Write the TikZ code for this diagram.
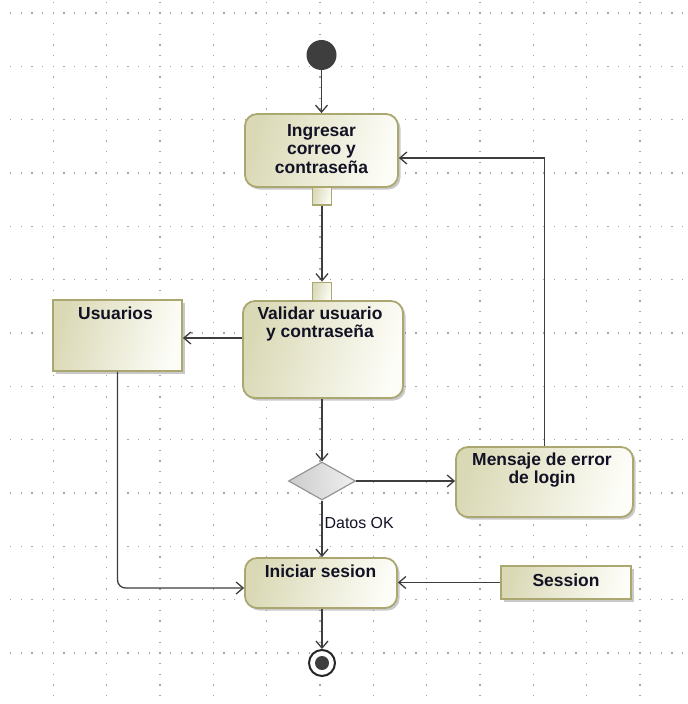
\documentclass[tikz,border=0pt]{standalone}
\usepackage{fontspec}
\setmainfont{Liberation Sans}
\usetikzlibrary{arrows.meta,shapes.geometric,shadows,calc}

\definecolor{actborder}{RGB}{170,168,112}
\definecolor{actdark}{RGB}{218,217,182}
\definecolor{actlight}{RGB}{253,253,248}
\definecolor{flowcol}{RGB}{62,62,62}
\definecolor{dotcol}{RGB}{165,165,165}
\definecolor{txtcol}{RGB}{18,18,36}
\definecolor{decborder}{RGB}{150,150,150}

\begin{document}
\begin{tikzpicture}[x=1bp,y=-1bp,
  griddots/.style={dotcol, line width=1.2bp, dash pattern=on 1.1bp off 9.567bp},
  shadebox/.style={draw=actborder, line width=1.8bp, left color=actdark, right color=actlight, shading angle=75},
  soft shadow/.style={drop shadow={shadow xshift=2.5bp, shadow yshift=-2.5bp, opacity=0.35, fill=black!60}},
  action/.style={shadebox, rounded corners=12bp, soft shadow, inner sep=0pt},
  objectbox/.style={shadebox, rectangle, soft shadow, inner sep=0pt},
  pinbox/.style={shadebox, rectangle, inner sep=0pt, minimum width=19bp, minimum height=18bp},
  decision/.style={diamond, draw=decborder, line width=1.2bp, left color=black!20, right color=black!6, inner sep=0pt},
  initial/.style={circle, fill=flowcol, minimum size=30bp, inner sep=0pt},
  final/.style={circle, draw=black!85, line width=2bp, fill=white, minimum size=26bp, inner sep=0pt,
    path picture={\fill[flowcol] (path picture bounding box.center) circle (7bp);}},
  boldtext/.style={font=\fontsize{17.5}{18.5}\selectfont\bfseries, text=txtcol, align=center, inner sep=0pt},
  guard/.style={font=\fontsize{16}{18}\selectfont, text=txtcol, inner sep=0pt},
  flow/.style={draw=flowcol, line width=1.3bp, -{Straight Barb[length=7bp, width=12bp, line width=1.3bp]}}
]
% page
\useasboundingbox[fill=white] (0,0) rectangle (688,704);

% dotted drawing grid
\foreach \k in {0,...,13} {
  \pgfmathsetmacro\yy{13+53.333*\k}
  \draw[griddots] (10.117,\yy) -- (688,\yy);
}
\foreach \k in {1,...,12} {
  \pgfmathsetmacro\xx{53.333*\k}
  \draw[griddots] (\xx,1.78) -- (\xx,704);
}

% activity nodes
\node[initial] (start) at (321.5,55) {};
\node[action, minimum width=153bp, minimum height=73bp] (ing) at (321.5,150.5) {};
\node[boldtext] (ing-t) at (321.5,149) {Ingresar\\correo y\\contraseña};
\node[pinbox] (p1) at (322,196) {};
\node[pinbox] (p2) at (322,291.5) {};
\node[action, minimum width=160bp, minimum height=97bp] (val) at (323,349.5) {};
\node[boldtext] (val-t) at (320,324) {Validar usuario\\y contraseña};
\node[objectbox, minimum width=129bp, minimum height=71bp] (usu) at (117.5,335.5) {};
\node[boldtext] (usu-t) at (115.5,313) {Usuarios};
\node[decision, minimum width=67bp, minimum height=38bp] (dec) at (322,481) {};
\node[action, minimum width=177bp, minimum height=70bp] (msg) at (544.5,482) {};
\node[boldtext] (msg-t) at (542,470) {Mensaje de error\\de login};
\node[action, minimum width=152bp, minimum height=50bp] (ini) at (321,583) {};
\node[boldtext] (ini-t) at (320.5,571) {Iniciar sesion};
\node[objectbox, minimum width=130bp, minimum height=33bp] (ses) at (566,582.5) {};
\node[boldtext] (ses-t) at (566,580) {Session};
\node[final] (end) at (322,663) {};

% control and object flows
\draw[flow] (start.south) -- (start.south |- ing.north);
\draw[flow] (p1.south) -- (p1.south |- p2.north);
\draw[flow] ([yshift=-2.5bp]usu.east -| val.west) -- ([yshift=-2.5bp]usu.east);
\draw[flow] (dec.north |- val.south) -- (dec.north);
\draw[flow] (dec.east) -- (msg.west |- dec.east);
\draw[flow] (msg.north) |- ([yshift=-7.5bp]ing.east);
\draw[flow] (dec.south) -- node[guard, pos=0.4, anchor=west, xshift=2bp] (ok) {Datos OK} (dec.south |- ini.north);
\draw[flow, rounded corners=8bp] (usu.south) |- ([yshift=-5bp]ini.west);
\draw[flow] (ses.west) -- (ses.west -| ini.east);
\draw[flow] (end.north |- ini.south) -- (end.north);
\end{tikzpicture}
\end{document}
